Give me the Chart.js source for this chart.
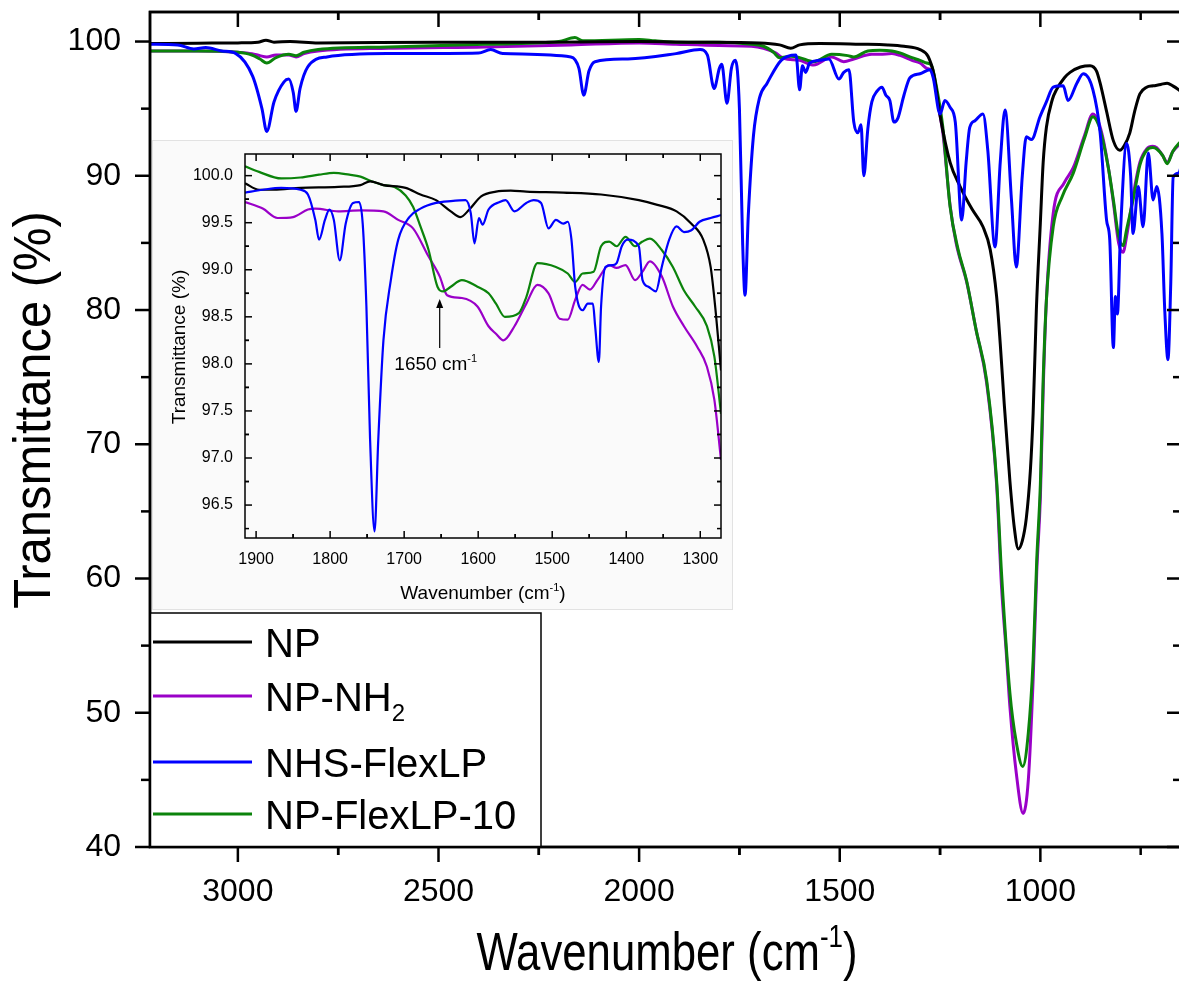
<!DOCTYPE html>
<html>
<head>
<meta charset="utf-8">
<script src="https://cdn.jsdelivr.net/npm/chart.js@4.4.1/dist/chart.umd.min.js"></script>
<style>
  html, body { margin: 0; padding: 0; background: #fff; overflow: hidden; }
  #wrap { position: relative; width: 1179px; height: 985px; overflow: hidden; }
  #main { position: absolute; left: 0; top: 0; }
  #inset { position: absolute; left: 152px; top: 140px; }
</style>
</head>
<body>
<div id="wrap">
  <canvas id="main" width="1184" height="985"></canvas>
  <canvas id="inset" width="581" height="470"></canvas>
</div>
<script>
const seriesNames = ['NP', 'NP-NH_{2}', 'NHS-FlexLP', 'NP-FlexLP-10'];
const seriesColors = ['#000000', '#9a00c8', '#0000ff', '#0b830b'];

// main plot tick labels
const xTicks = [3000, 2500, 2000, 1500, 1000];
const yTicks = [40, 50, 60, 70, 80, 90, 100];
// inset tick labels
const insetXTicks = [1900, 1800, 1700, 1600, 1500, 1400, 1300];
const insetYTicks = [96.5, 97.0, 97.5, 98.0, 98.5, 99.0, 99.5, 100.0];

// main spectra (wavenumber, transmittance)
const npWn = [3219, 3100, 3000, 2950, 2930, 2910, 2870, 2800, 2500, 2200, 2000, 1850, 1700, 1650, 1622, 1600, 1550, 1450, 1380, 1340, 1300, 1280, 1265, 1250, 1225, 1200, 1170, 1143, 1125, 1109, 1100, 1090, 1076, 1065, 1055, 1045, 1035, 1025, 1018, 1010, 1000, 993, 985, 970, 960, 940, 926, 900, 876, 860, 851, 835, 818, 802, 790, 777, 765, 752, 735, 719, 700, 684, 670, 655, 647];
const npT = [99.85, 99.88, 99.9, 99.95, 100.1, 99.95, 100.0, 99.9, 99.95, 99.95, 100.0, 99.95, 99.9, 99.75, 99.5, 99.75, 99.85, 99.8, 99.75, 99.65, 99.4, 98.9, 97.5, 94.5, 91.0, 89.2, 87.5, 86.2, 84.5, 81.0, 77.5, 73.0, 67.3, 63.8, 62.2, 62.8, 64.5, 68.0, 72.3, 80.0, 86.5, 91.0, 93.6, 95.7, 96.4, 97.3, 97.7, 98.1, 98.2, 97.8, 96.9, 94.8, 92.6, 91.9, 92.3, 93.2, 94.8, 96.1, 96.6, 96.7, 96.8, 96.9, 96.7, 96.4, 96.2];

const nh2Wn = [3219, 3100, 3000, 2965, 2945, 2928, 2905, 2873, 2855, 2835, 2800, 2624, 2384, 2170, 2000, 1908, 1800, 1720, 1690, 1660, 1640, 1600, 1565, 1520, 1490, 1465, 1420, 1400, 1370, 1350, 1320, 1300, 1283, 1271, 1260, 1250, 1243, 1225, 1210, 1183, 1160, 1134, 1109, 1097, 1085, 1076, 1060, 1043, 1030, 1018, 1009, 1000, 993, 985, 968, 940, 918, 890, 869, 855, 844, 830, 818, 805, 794, 785, 769, 752, 735, 720, 710, 695, 684, 670, 655, 647];
const nh2T = [99.3, 99.3, 99.2, 99.1, 98.95, 98.85, 99.0, 99.0, 98.85, 99.1, 99.3, 99.5, 99.6, 99.75, 99.9, 99.8, 99.7, 99.65, 99.5, 99.15, 98.75, 98.6, 98.25, 98.85, 98.5, 98.7, 99.05, 99.05, 99.1, 98.97, 98.6, 98.4, 98.0, 97.8, 96.5, 94.5, 93.2, 87.8, 85.0, 82.0, 78.5, 74.6, 67.0, 59.5, 54.5, 50.5, 45.5, 42.5, 45.0, 52.5, 60.5, 66.0, 74.0, 80.7, 87.2, 89.5, 90.6, 93.0, 94.6, 94.0, 92.8, 90.5, 88.0, 85.0, 84.3, 85.5, 88.5, 91.0, 92.0, 92.2, 92.1, 91.5, 91.0, 91.8, 92.3, 92.5];

const nhsWn = [3219, 3150, 3110, 3080, 3040, 3005, 2963, 2940, 2928, 2910, 2885, 2873, 2862, 2855, 2845, 2826, 2778, 2624, 2400, 2370, 2340, 2170, 2150, 2138, 2125, 2110, 2028, 1908, 1848, 1830, 1813, 1800, 1794, 1781, 1770, 1760, 1750, 1742, 1736, 1728, 1715, 1700, 1681, 1646, 1609, 1600, 1593, 1585, 1575, 1550, 1527, 1502, 1490, 1477, 1465, 1455, 1447, 1440, 1430, 1420, 1407, 1395, 1385, 1375, 1365, 1355, 1340, 1325, 1300, 1275, 1267, 1250, 1238, 1225, 1212, 1196, 1185, 1176, 1163, 1143, 1131, 1113, 1100, 1088, 1072, 1060, 1045, 1035, 1022, 1001, 985, 968, 943, 931, 909, 893, 869, 851, 835, 827, 818, 813, 808, 800, 785, 775, 769, 756, 744, 731, 719, 710, 697, 690, 682, 675, 669, 655, 647];
const nhsT = [99.8, 99.75, 99.45, 99.55, 99.3, 99.1, 97.4, 95.0, 93.3, 95.5, 97.0, 97.2, 96.2, 94.8, 96.5, 98.1, 98.85, 99.1, 99.15, 99.4, 99.1, 98.85, 98.0, 96.0, 97.8, 98.5, 98.7, 99.1, 99.4, 99.0, 96.5, 98.0, 98.3, 95.4, 98.0, 98.6, 95.0, 85.0, 81.1, 87.0, 93.0, 95.8, 96.9, 98.6, 99.0, 96.4, 98.2, 97.7, 98.4, 98.6, 98.7, 97.2, 97.7, 97.9, 94.0, 93.2, 93.8, 90.0, 93.5, 95.5, 96.3, 96.6, 96.0, 95.6, 94.0, 94.3, 96.0, 97.3, 97.6, 97.9, 97.3, 94.6, 95.6, 95.1, 94.0, 86.7, 91.0, 93.6, 94.1, 94.6, 91.9, 84.7, 91.0, 94.9, 88.2, 83.2, 90.0, 92.9, 92.7, 94.4, 95.5, 96.6, 96.7, 95.6, 96.9, 97.6, 96.4, 93.2, 86.7, 85.2, 77.2, 81.0, 79.7, 86.0, 92.4, 90.0, 85.7, 89.2, 86.2, 91.7, 88.2, 89.2, 85.7, 80.0, 76.3, 82.0, 89.9, 90.2, 91.0];

const flexWn = [3219, 3100, 3000, 2965, 2945, 2928, 2905, 2873, 2855, 2835, 2800, 2624, 2384, 2200, 2160, 2140, 2000, 1960, 1900, 1800, 1720, 1690, 1665, 1650, 1622, 1600, 1565, 1520, 1480, 1465, 1430, 1400, 1370, 1350, 1320, 1300, 1283, 1271, 1260, 1243, 1225, 1205, 1184, 1160, 1134, 1109, 1097, 1076, 1060, 1044, 1030, 1018, 1009, 1000, 993, 985, 968, 945, 918, 890, 869, 855, 844, 830, 818, 805, 794, 785, 769, 752, 735, 720, 710, 695, 684, 670, 655, 647];
const flexT = [99.3, 99.3, 99.2, 99.0, 98.7, 98.4, 98.8, 99.05, 98.95, 99.2, 99.4, 99.6, 99.8, 100.0, 100.3, 100.05, 100.15, 100.05, 99.95, 99.95, 99.8, 99.65, 99.2, 98.8, 98.9, 98.8, 98.5, 99.05, 98.95, 98.85, 99.3, 99.35, 99.3, 99.15, 98.8, 98.6, 98.4, 98.2, 96.8, 93.6, 87.7, 84.5, 82.2, 78.5, 74.8, 67.3, 60.5, 51.5, 47.8, 46.0, 48.5, 53.9, 61.4, 67.0, 74.8, 80.7, 86.2, 88.5, 90.2, 92.8, 94.4, 93.8, 92.6, 90.5, 88.2, 85.5, 84.8, 86.0, 88.2, 90.8, 91.9, 92.1, 92.0, 91.5, 90.9, 91.8, 92.4, 92.6];

// inset spectra, 1915-1272 cm-1
const inNpWn = [1915, 1896, 1876, 1840, 1789, 1759, 1746, 1728, 1698, 1678, 1657, 1637, 1624, 1612, 1596, 1576, 1556, 1535, 1485, 1434, 1383, 1358, 1332, 1312, 1296, 1286, 1279, 1272];
const inNpT = [99.92, 99.85, 99.85, 99.87, 99.88, 99.9, 99.94, 99.9, 99.87, 99.8, 99.74, 99.62, 99.56, 99.64, 99.78, 99.83, 99.84, 99.83, 99.82, 99.8, 99.74, 99.69, 99.62, 99.49, 99.32, 99.03, 98.54, 97.93];

const inNh2Wn = [1915, 1891, 1871, 1850, 1830, 1820, 1789, 1759, 1728, 1708, 1688, 1667, 1652, 1642, 1622, 1601, 1586, 1576, 1566, 1551, 1535, 1520, 1505, 1490, 1479, 1469, 1459, 1449, 1439, 1423, 1413, 1401, 1388, 1378, 1368, 1352, 1337, 1322, 1304, 1291, 1281, 1272];
const inNh2T = [99.72, 99.65, 99.55, 99.56, 99.64, 99.65, 99.62, 99.63, 99.62, 99.53, 99.44, 99.14, 98.93, 98.73, 98.7, 98.61, 98.4, 98.32, 98.25, 98.4, 98.64, 98.84, 98.75, 98.48, 98.47, 98.68, 98.84, 98.79, 98.89, 99.05, 99.02, 99.05, 98.89, 98.98, 99.09, 98.93, 98.61, 98.4, 98.18, 97.97, 97.62, 96.98];

const inNhsWn = [1915, 1891, 1866, 1840, 1830, 1820, 1815, 1807, 1801, 1795, 1787, 1779, 1769, 1761, 1756, 1751, 1746, 1740, 1735, 1728, 1718, 1708, 1693, 1678, 1657, 1637, 1617, 1610, 1605, 1599, 1594, 1586, 1571, 1563, 1551, 1535, 1525, 1515, 1505, 1495, 1485, 1479, 1474, 1469, 1459, 1452, 1445, 1442, 1437, 1434, 1428, 1418, 1413, 1406, 1398, 1383, 1378, 1370, 1360, 1352, 1342, 1332, 1322, 1312, 1301, 1286, 1272];
const inNhsT = [99.82, 99.85, 99.87, 99.85, 99.8, 99.53, 99.32, 99.53, 99.64, 99.53, 99.1, 99.49, 99.71, 99.72, 99.49, 98.61, 97.19, 96.22, 97.19, 98.25, 98.89, 99.32, 99.56, 99.65, 99.71, 99.73, 99.74, 99.6, 99.28, 99.55, 99.48, 99.64, 99.72, 99.74, 99.62, 99.71, 99.74, 99.71, 99.44, 99.53, 99.49, 99.51, 99.32, 98.82, 98.57, 98.64, 98.64, 98.4, 98.02, 98.61, 99.03, 99.05, 99.07, 99.25, 99.32, 99.25, 98.89, 98.82, 98.77, 99.03, 99.32, 99.46, 99.4, 99.42, 99.51, 99.55, 99.58];

const inFlexWn = [1915, 1896, 1866, 1840, 1815, 1795, 1774, 1759, 1744, 1728, 1713, 1698, 1688, 1678, 1667, 1655, 1647, 1637, 1622, 1601, 1586, 1576, 1564, 1545, 1535, 1520, 1495, 1479, 1469, 1459, 1444, 1434, 1423, 1413, 1401, 1388, 1378, 1368, 1352, 1337, 1322, 1307, 1291, 1281, 1272];
const inFlexT = [100.1, 100.04, 99.97, 99.98, 100.01, 100.03, 100.01, 99.99, 99.94, 99.9, 99.88, 99.79, 99.67, 99.46, 99.21, 98.82, 98.77, 98.82, 98.89, 98.82, 98.75, 98.64, 98.5, 98.54, 98.71, 99.07, 99.03, 98.96, 98.87, 98.96, 98.98, 99.25, 99.3, 99.25, 99.35, 99.25, 99.3, 99.33, 99.21, 99.03, 98.78, 98.61, 98.4, 98.08, 97.47];

// the 1650 cm-1 marker in the inset
const markWn = 1652;
const markFrom = 98.17;
const markTo = 98.69;
const markText = '1650 cm^{-1}';

const SANS = "'Liberation Sans', Arial, sans-serif";

function pts(wn, t) {
  return wn.map((w, i) => ({ x: w, y: t[i] }));
}

function series(i, wn, t, width, order) {
  return {
    label: seriesNames[i],
    data: pts(wn, t),
    borderColor: seriesColors[i],
    borderWidth: width,
    pointRadius: 0,
    fill: false,
    cubicInterpolationMode: 'monotone',
    order: order
  };
}

// text with _{sub} and ^{sup} parts, sx squeezes it sideways
function drawRich(ctx, text, x, y, size, family, align, sx) {
  sx = sx || 1;
  const parts = [];
  const re = /([_^])\{([^}]*)\}/g;
  let last = 0, m;
  while ((m = re.exec(text))) {
    if (m.index > last) parts.push({ t: text.slice(last, m.index), k: '' });
    parts.push({ t: m[2], k: m[1] });
    last = re.lastIndex;
  }
  if (last < text.length) parts.push({ t: text.slice(last), k: '' });
  const small = Math.round(size * 0.6);
  let w = 0;
  parts.forEach(p => {
    ctx.font = (p.k ? small : size) + 'px ' + family;
    p.w = ctx.measureText(p.t).width;
    w += p.w;
  });
  ctx.save();
  ctx.translate(x, y);
  ctx.scale(sx, 1);
  let cx = align === 'center' ? -w / 2 : 0;
  ctx.textAlign = 'left';
  ctx.textBaseline = 'alphabetic';
  parts.forEach(p => {
    ctx.font = (p.k ? small : size) + 'px ' + family;
    const dy = p.k === '^' ? -size * 0.42 : (p.k === '_' ? size * 0.25 : 0);
    ctx.fillText(p.t, cx, dy);
    cx += p.w;
  });
  ctx.restore();
}

function tickLine(ctx, x1, y1, x2, y2) {
  ctx.beginPath();
  ctx.moveTo(x1, y1);
  ctx.lineTo(x2, y2);
  ctx.stroke();
}

function noPad(s) {
  s.paddingTop = 0;
  s.paddingBottom = 0;
  s.paddingLeft = 0;
  s.paddingRight = 0;
}

const mainFrame = {
  id: 'mainFrame',
  afterDraw(chart) {
    const { ctx, chartArea: a, scales: { x, y } } = chart;
    ctx.save();
    ctx.strokeStyle = '#000';
    ctx.lineWidth = 2.5;
    ctx.strokeRect(a.left, a.top, a.right - a.left, a.bottom - a.top);
    // major ticks out on left/bottom, in on top/right; minor ticks halfway
    const xs = [];
    xTicks.forEach(v => { xs.push([v, true]); xs.push([v - 250, false]); xs.push([v + 250, false]); });
    xs.forEach(([v, major]) => {
      if (v < x.min || v > x.max) return;
      const px = x.getPixelForValue(v);
      const len = major ? 15 : 8;
      tickLine(ctx, px, a.bottom, px, a.bottom + len);
      tickLine(ctx, px, a.top, px, a.top + len);
    });
    const ys = [];
    yTicks.forEach(v => { ys.push([v, true]); ys.push([v + 5, false]); });
    ys.forEach(([v, major]) => {
      if (v < y.min || v > y.max) return;
      const py = y.getPixelForValue(v);
      const len = major ? 15 : 9;
      tickLine(ctx, a.left - len, py, a.left, py);
      tickLine(ctx, a.right - len, py, a.right, py);
    });

    // axis titles
    ctx.fillStyle = '#000';
    drawRich(ctx, 'Wavenumber (cm^{-1})', 667, 970, 54, SANS, 'center', 0.81);
    ctx.save();
    ctx.translate(50, 410);
    ctx.rotate(-Math.PI / 2);
    drawRich(ctx, 'Transmittance (%)', 0, 0, 52, SANS, 'center', 0.94);
    ctx.restore();

    // legend box
    const box = { left: a.left, top: 613, right: 541, bottom: a.bottom };
    const rowY = [642, 696, 762, 814];
    ctx.fillStyle = '#fff';
    ctx.fillRect(box.left, box.top, box.right - box.left, box.bottom - box.top);
    ctx.lineWidth = 1.5;
    ctx.strokeRect(box.left, box.top, box.right - box.left, box.bottom - box.top);
    ctx.lineWidth = 2.5;
    ctx.strokeRect(a.left, a.top, a.right - a.left, a.bottom - a.top);
    seriesNames.forEach((name, i) => {
      ctx.strokeStyle = seriesColors[i];
      ctx.lineWidth = 3;
      tickLine(ctx, box.left + 3, rowY[i], box.left + 102, rowY[i]);
      ctx.fillStyle = '#000';
      drawRich(ctx, name, box.left + 115, rowY[i] + 15, 40, SANS, 'left');
    });
    ctx.restore();
  }
};

const insetFrame = {
  id: 'insetFrame',
  beforeDraw(chart) {
    const { ctx, width, height } = chart;
    ctx.save();
    ctx.fillStyle = '#fafafa';
    ctx.fillRect(0, 0, width, height);
    ctx.strokeStyle = '#e2e2e2';
    ctx.lineWidth = 1;
    ctx.strokeRect(0.5, 0.5, width - 1, height - 1);
    ctx.restore();
  },
  afterDraw(chart) {
    const { ctx, chartArea: a, scales: { x, y } } = chart;
    ctx.save();
    ctx.strokeStyle = '#000';
    ctx.lineWidth = 1.5;
    ctx.strokeRect(a.left, a.top, a.right - a.left, a.bottom - a.top);
    const xs = [];
    insetXTicks.forEach(v => { xs.push([v, true]); xs.push([v + 50, false]); xs.push([v - 50, false]); });
    xs.forEach(([v, major]) => {
      if (v < x.min || v > x.max) return;
      const px = x.getPixelForValue(v);
      const len = major ? 7 : 4;
      tickLine(ctx, px, a.bottom, px, a.bottom - len);
      tickLine(ctx, px, a.top, px, a.top + len);
    });
    const ys = [];
    insetYTicks.forEach(v => { ys.push([v, true]); ys.push([v - 0.25, false]); ys.push([v + 0.25, false]); });
    ys.forEach(([v, major]) => {
      if (v < y.min || v > y.max) return;
      const py = y.getPixelForValue(v);
      const len = major ? 7 : 4;
      tickLine(ctx, a.left, py, a.left + len, py);
      tickLine(ctx, a.right, py, a.right - len, py);
    });

    // 1650 cm-1 arrow
    const ax = x.getPixelForValue(markWn);
    const y0 = y.getPixelForValue(markFrom);
    const y1 = y.getPixelForValue(markTo);
    ctx.lineWidth = 1.2;
    tickLine(ctx, ax, y0, ax, y1 + 6);
    ctx.fillStyle = '#000';
    ctx.beginPath();
    ctx.moveTo(ax, y1);
    ctx.lineTo(ax - 3.5, y1 + 9);
    ctx.lineTo(ax + 3.5, y1 + 9);
    ctx.closePath();
    ctx.fill();
    drawRich(ctx, markText, ax - 4, y.getPixelForValue(97.93), 19, SANS, 'center');

    // titles
    drawRich(ctx, 'Wavenumber (cm^{-1})', 331, 459, 19, SANS, 'center');
    ctx.save();
    ctx.translate(33, 207);
    ctx.rotate(-Math.PI / 2);
    drawRich(ctx, 'Transmittance (%)', 0, 0, 19, SANS, 'center');
    ctx.restore();
    ctx.restore();
  }
};

new Chart(document.getElementById('main'), {
  type: 'line',
  data: {
    datasets: [
      series(0, npWn, npT, 3, 1),
      series(1, nh2Wn, nh2T, 3, 3),
      series(2, nhsWn, nhsT, 3, 0),
      series(3, flexWn, flexT, 3, 2)
    ]
  },
  options: {
    responsive: false,
    animation: false,
    layout: { padding: { top: 12, right: 2, left: 0, bottom: 0 } },
    plugins: { legend: { display: false }, tooltip: { enabled: false } },
    scales: {
      x: {
        type: 'linear',
        reverse: true,
        min: 647,
        max: 3219,
        grid: { display: false, drawTicks: false },
        border: { display: false },
        afterBuildTicks: s => { s.ticks = xTicks.map(v => ({ value: v })); },
        afterFit: s => { s.height = 138; noPad(s); },
        ticks: { padding: 26, color: '#000', autoSkip: false, maxRotation: 0, callback: v => String(v), font: { family: SANS, size: 32 } }
      },
      y: {
        type: 'linear',
        min: 40,
        max: 102.2,
        grid: { display: false, drawTicks: false },
        border: { display: false },
        afterBuildTicks: s => { s.ticks = yTicks.map(v => ({ value: v })); },
        afterFit: s => { s.width = 150; noPad(s); },
        ticks: { padding: 29, color: '#000', callback: v => String(v), font: { family: SANS, size: 32 } }
      }
    }
  },
  plugins: [mainFrame]
});

new Chart(document.getElementById('inset'), {
  type: 'line',
  data: {
    datasets: [
      series(0, inNpWn, inNpT, 2.2, 1),
      series(1, inNh2Wn, inNh2T, 2.2, 3),
      series(2, inNhsWn, inNhsT, 2.2, 0),
      series(3, inFlexWn, inFlexT, 2.2, 2)
    ]
  },
  options: {
    responsive: false,
    animation: false,
    layout: { padding: { top: 14, right: 12, left: 0, bottom: 0 } },
    plugins: { legend: { display: false }, tooltip: { enabled: false } },
    scales: {
      x: {
        type: 'linear',
        reverse: true,
        min: 1272,
        max: 1915,
        grid: { display: false, drawTicks: false },
        border: { display: false },
        afterBuildTicks: s => { s.ticks = insetXTicks.map(v => ({ value: v })); },
        afterFit: s => { s.height = 72; noPad(s); },
        ticks: { padding: 12, color: '#000', autoSkip: false, maxRotation: 0, callback: v => String(v), font: { family: SANS, size: 16 } }
      },
      y: {
        type: 'linear',
        min: 96.15,
        max: 100.23,
        grid: { display: false, drawTicks: false },
        border: { display: false },
        afterBuildTicks: s => { s.ticks = insetYTicks.map(v => ({ value: v })); },
        afterFit: s => { s.width = 93; noPad(s); },
        ticks: { padding: 12, color: '#000', callback: v => v.toFixed(1), font: { family: SANS, size: 16 } }
      }
    }
  },
  plugins: [insetFrame]
});
</script>
</body>
</html>
